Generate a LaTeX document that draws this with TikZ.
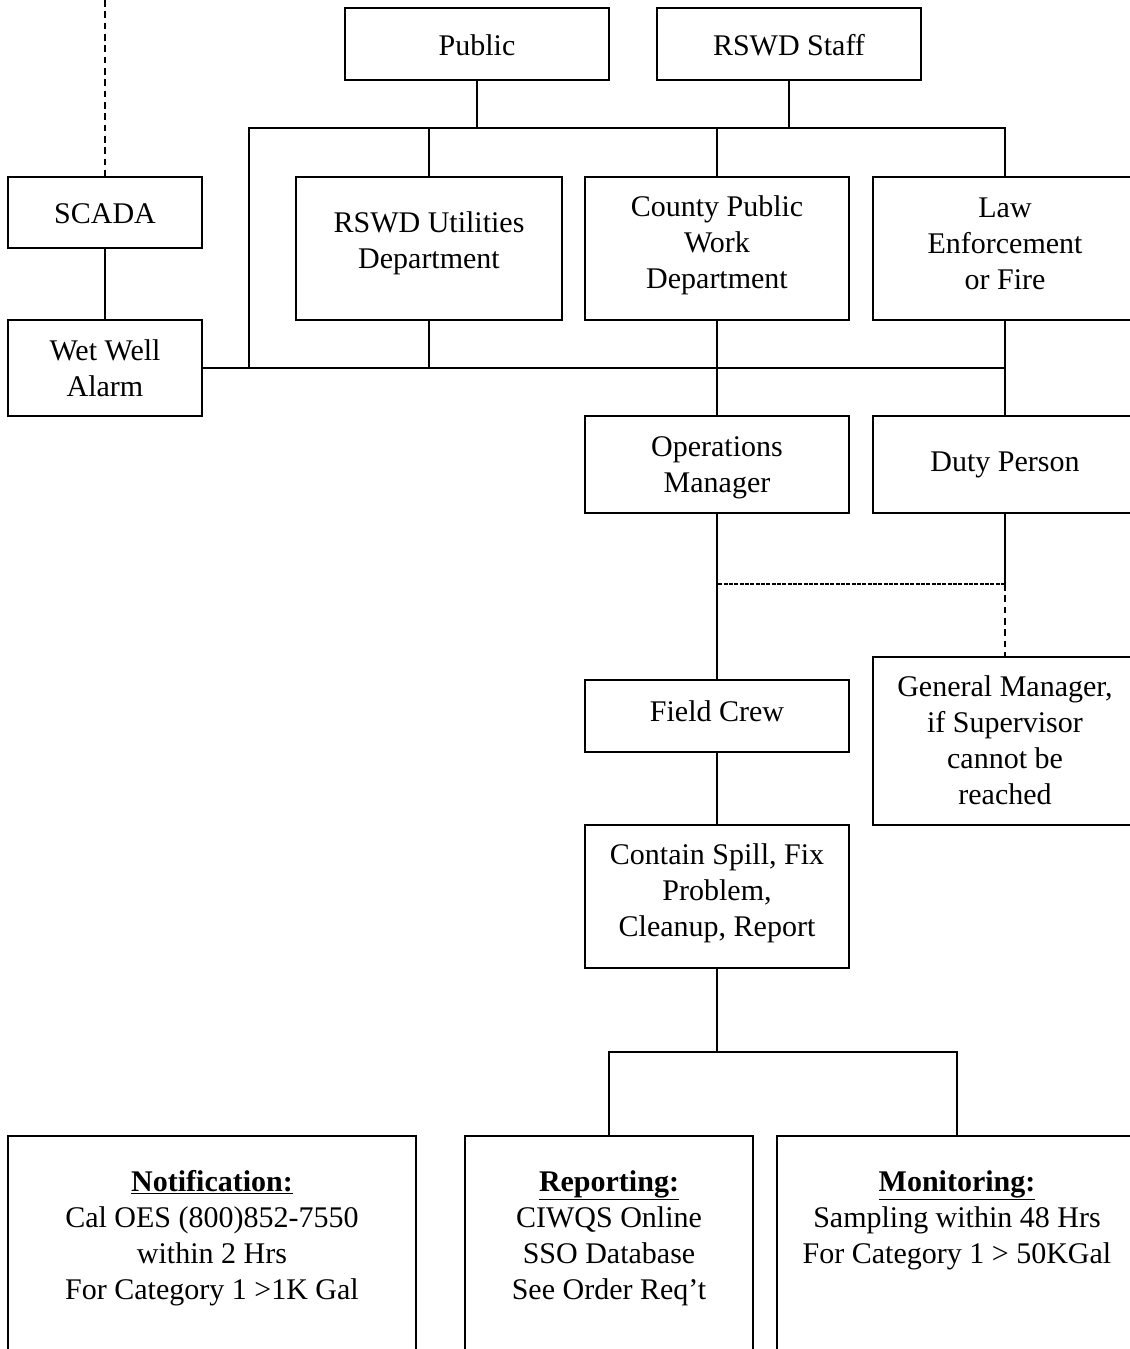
\documentclass[tikz,border=0pt]{standalone}
\usepackage{fontspec}
\setmainfont{Liberation Serif}
\begin{document}
\begin{tikzpicture}[x=0.75pt,y=-0.75pt, line width=1.5pt,
  bx/.style 2 args={draw, rectangle, inner sep=0pt, minimum width=#1*0.75pt, minimum height=#2*0.75pt},
  tx/.style={align=center, font=\fontsize{22.5}{27}\selectfont, inner sep=0pt},
  dsh/.style={dash pattern=on 5pt off 3.5pt},
  fdsh/.style={dash pattern=on 3pt off 1pt}]
\useasboundingbox (0,0) rectangle (1130,1349);
\clip (0,0) rectangle (1130,1349);
% boxes
\node[bx={264}{72}] (pub) at (477,44) {};
\node[bx={264}{72}] (staff) at (789,44) {};
\node[bx={194}{71}] (scada) at (105,212.5) {};
\node[bx={194}{96}] (ww) at (105,368) {};
\node[bx={266}{143}] (util) at (429,248.5) {};
\node[bx={264}{143}] (county) at (717,248.5) {};
\node[bx={264}{143}] (law) at (1005,248.5) {};
\node[bx={264}{97}] (ops) at (717,464.5) {};
\node[bx={264}{97}] (duty) at (1005,464.5) {};
\node[bx={264}{72}] (field) at (717,716) {};
\node[bx={264}{168}] (gm) at (1005,741) {};
\node[bx={264}{143}] (contain) at (717,896.5) {};
\node[bx={408}{240}] (notif) at (212,1256) {};
\node[bx={288}{240}] (rep) at (609,1256) {};
\node[bx={360}{240}] (mon) at (957,1256) {};
% texts
\node[tx] (tpub) at (477,45) {Public};
\node[tx] (tstaff) at (789,45) {RSWD Staff};
\node[tx] (tscada) at (105,214) {SCADA};
\node[tx] (tww) at (105,368) {Wet Well\\Alarm};
\node[tx] (tutil) at (429,243) {RSWD Utilities\\Department};
\node[tx] (tcounty) at (717,245) {County Public\\Work\\Department};
\node[tx] (tlaw) at (1005,244) {Law\\Enforcement\\or Fire};
\node[tx] (tops) at (717,468) {Operations\\Manager};
\node[tx] (tduty) at (1005,465) {Duty Person};
\node[tx] (tfield) at (717,711) {Field Crew};
\node[tx] (tgm) at (1005,740) {General Manager,\\if Supervisor\\cannot be\\reached};
\node[tx] (tcontain) at (717,893) {Contain Spill, Fix\\Problem,\\Cleanup, Report};
\node[tx] (tnotif) at (212,1238) {\underline{\textbf{Notification:}}\\Cal OES (800)852-7550\\within 2 Hrs\\For Category 1 >1K Gal};
\node[tx] (trep) at (609,1238) {\underline{\textbf{Reporting:}}\\CIWQS Online\\SSO Database\\See Order Req’t};
\node[tx] (tmon) at (957,1220) {\underline{\textbf{Monitoring:}}\\Sampling within 48 Hrs\\For Category 1 > 50KGal};
% connectors
\coordinate (tl) at (105,0);
\draw[dsh] (tl) -- (scada.north);
\draw (scada.south) -- (ww.north);
\coordinate (lb) at (249,128);
\draw (ww.east) -- (law.south |- ww.east);
\draw (lb |- ww.east) -- (lb) -- (law.north |- lb) -- (law.north);
\draw (pub.south) -- (pub.south |- lb);
\draw (staff.south) -- (staff.south |- lb);
\draw (util.north) -- (util.north |- lb);
\draw (county.north) -- (county.north |- lb);
\draw (util.south) -- (util.south |- ww.east);
\draw (county.south) -- (ops.north);
\draw (law.south) -- (duty.north);
\draw (ops.south) -- (field.north);
\coordinate (dj) at (1005,584);
\draw (duty.south) -- (dj);
\draw[fdsh] (dj) -- (ops.south |- dj);
\draw[dsh] (dj) -- (gm.north);
\draw (field.south) -- (contain.north);
\coordinate (bj) at (717,1052);
\draw (contain.south) -- (bj);
\draw (rep.north) -- (rep.north |- bj) -- (mon.north |- bj) -- (mon.north);
\end{tikzpicture}
\end{document}
